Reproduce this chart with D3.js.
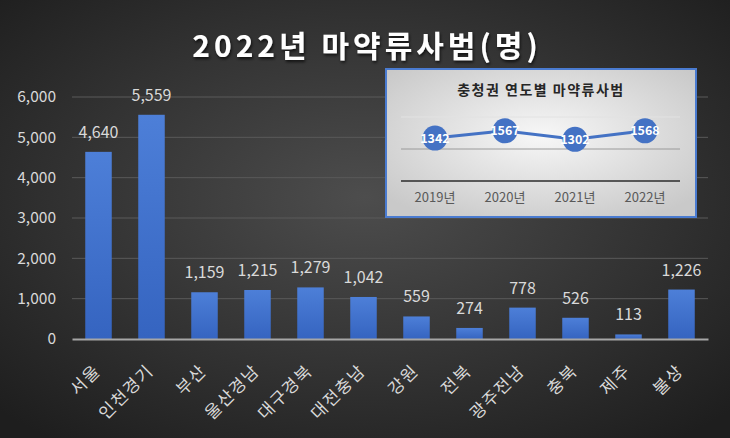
<!DOCTYPE html>
<html><head><meta charset="utf-8">
<script src="https://cdn.jsdelivr.net/npm/d3@7"></script>
<style>html,body{margin:0;padding:0;background:#2a2a2a;}svg{display:block;}</style>
</head><body>
<script>
const categories = ["서울","인천경기","부산","울산경남","대구경북","대전충남","강원","전북","광주전남","충북","제주","불상"];
const values = [4640,5559,1159,1215,1279,1042,559,274,778,526,113,1226];
const yTicks = [0,1000,2000,3000,4000,5000,6000];
const insetYears = ["2019년","2020년","2021년","2022년"];
const insetValues = [1342,1567,1302,1568];
const insetGrid = [1000,2000];

const W=730,H=438;
const font = "'Noto Sans CJK KR','Noto Sans',sans-serif";
const svg = d3.select("body").append("svg").attr("width",W).attr("height",H);
const defs = svg.append("defs");
const bg = defs.append("radialGradient").attr("id","bg").attr("cx","50%").attr("cy","45%").attr("r","70%");
bg.append("stop").attr("offset","0%").attr("stop-color","#4d4d4d");
bg.append("stop").attr("offset","100%").attr("stop-color","#1e1e1e");
const bar = defs.append("linearGradient").attr("id","bar").attr("x1",0).attr("y1",0).attr("x2",0).attr("y2",1);
bar.append("stop").attr("offset","0%").attr("stop-color","#4d7fd8");
bar.append("stop").attr("offset","100%").attr("stop-color","#3564c0");
const ig = defs.append("radialGradient").attr("id","ig").attr("cx","50%").attr("cy","45%").attr("r","65%");
ig.append("stop").attr("offset","0%").attr("stop-color","#f7f7f7");
ig.append("stop").attr("offset","100%").attr("stop-color","#c9c9c9");
const sh = defs.append("filter").attr("id","sh").attr("x","-10%").attr("y","-30%").attr("width","120%").attr("height","160%");
sh.append("feDropShadow").attr("dx",1).attr("dy",2).attr("stdDeviation",1.5).attr("flood-color","#000").attr("flood-opacity",0.7);

svg.append("rect").attr("width",W).attr("height",H).attr("fill","url(#bg)");

svg.append("text").attr("x",367).attr("y",57).attr("text-anchor","middle")
  .attr("fill","#ffffff").attr("font-family",font).attr("font-weight","bold").attr("font-size",30)
  .attr("letter-spacing",4).attr("filter","url(#sh)").text("2022년 마약류사범(명)");

const x = d3.scaleBand().domain(categories).range([72,708]).paddingInner(0.5).paddingOuter(0.25);
const y = d3.scaleLinear().domain([0,6000]).range([339,97]);

// gridlines
svg.append("g").selectAll("line").data(yTicks.filter(d=>d>0)).join("line")
  .attr("x1",72).attr("x2",708).attr("y1",d=>y(d)).attr("y2",d=>y(d))
  .attr("stroke","#5a5a5a").attr("stroke-width",1);

// y axis
const yAxis = d3.axisLeft(y).tickValues(yTicks).tickFormat(d3.format(",")).tickSize(0).tickPadding(0);
const ya = svg.append("g").attr("transform","translate(56,0)").call(yAxis);
ya.select(".domain").remove();
ya.selectAll("text").attr("fill","#d9d9d9").attr("font-family",font).attr("font-size",15.5);

// bars
svg.append("g").selectAll("rect").data(values).join("rect")
  .attr("x",(d,i)=>x(categories[i])).attr("width",x.bandwidth())
  .attr("y",d=>y(d)).attr("height",d=>y(0)-y(d)).attr("fill","url(#bar)");

svg.append("g").selectAll("text").data(values).join("text")
  .attr("x",(d,i)=>x(categories[i])+x.bandwidth()/2).attr("y",d=>y(d)-14)
  .attr("text-anchor","middle").attr("fill","#d9d9d9").attr("font-family",font).attr("font-size",16)
  .text(d=>d3.format(",")(d));

// x axis
const xAxis = d3.axisBottom(x).tickSize(0).tickPadding(0);
const xa = svg.append("g").attr("transform",`translate(0,${y(0)})`).call(xAxis);
xa.select(".domain").attr("stroke","#a6a6a6").attr("stroke-width",2);
xa.selectAll("text").attr("fill","#d9d9d9").attr("font-family",font).attr("font-size",17)
  .attr("letter-spacing",1.5).attr("text-anchor","end").attr("dy",0)
  .attr("transform","translate(3,33) rotate(-45)");

// inset
const ix0=386, iy0=69, iw=310, ih=148;
svg.append("rect").attr("x",ix0).attr("y",iy0).attr("width",iw).attr("height",ih)
  .attr("fill","url(#ig)").attr("stroke","#4a7bd0").attr("stroke-width",2);
svg.append("text").attr("x",541).attr("y",95).attr("text-anchor","middle")
  .attr("fill","#262626").attr("font-family",font).attr("font-weight","bold").attr("font-size",14)
  .attr("letter-spacing",1.5).text("충청권 연도별 마약류사범");

const ix = d3.scaleBand().domain(insetYears).range([400,680]);
const iy = d3.scaleLinear().domain([0,2000]).range([181,117]);
svg.append("g").selectAll("line").data(insetGrid).join("line")
  .attr("x1",401).attr("x2",680).attr("y1",d=>iy(d)).attr("y2",d=>iy(d))
  .attr("stroke",d=>d===2000?"#e2e2e2":"#9a9a9a").attr("stroke-width",1);
svg.append("line").attr("x1",401).attr("x2",680).attr("y1",iy(0)).attr("y2",iy(0))
  .attr("stroke","#2b2b2b").attr("stroke-width",1.5);

const ixAxis = svg.append("g").attr("transform",`translate(0,${iy(0)})`)
  .call(d3.axisBottom(ix).tickSize(0).tickPadding(12));
ixAxis.select(".domain").remove();
ixAxis.selectAll("text").attr("fill","#595959").attr("font-family",font).attr("font-size",13);

const line = d3.line().x((d,i)=>ix(insetYears[i])+ix.bandwidth()/2).y(d=>iy(d));
svg.append("path").datum(insetValues).attr("d",line).attr("fill","none")
  .attr("stroke","#4472c4").attr("stroke-width",3);
svg.append("g").selectAll("circle").data(insetValues).join("circle")
  .attr("cx",(d,i)=>ix(insetYears[i])+ix.bandwidth()/2).attr("cy",d=>iy(d)).attr("r",12.5)
  .attr("fill","#4472c4");
svg.append("g").selectAll("text").data(insetValues).join("text")
  .attr("x",(d,i)=>ix(insetYears[i])+ix.bandwidth()/2).attr("y",d=>iy(d)+4.5)
  .attr("text-anchor","middle").attr("fill","#ffffff").attr("font-family",font)
  .attr("font-weight","bold").attr("font-size",12.5).text(d=>d);
</script>
</body></html>
